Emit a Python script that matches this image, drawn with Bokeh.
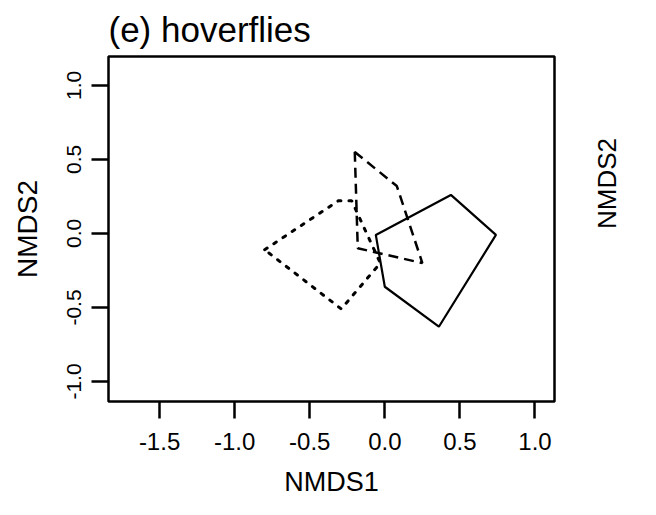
import numpy as np
from bokeh.plotting import figure
from bokeh.models import Range1d, FixedTicker, LinearAxis
from bokeh.embed import file_html
from bokeh.resources import INLINE

# ---- data ----
solid_x = [-0.06, 0.44, 0.74, 0.36, 0.00]
solid_y = [-0.01, 0.26, -0.01, -0.63, -0.36]

dashed_x = [-0.20, 0.08, 0.25, -0.18]
dashed_y = [0.55, 0.32, -0.20, -0.10]

dotted_x = [-0.80, -0.31, -0.22, -0.03, -0.29]
dotted_y = [-0.11, 0.22, 0.22, -0.20, -0.51]

x_ticks = [-1.5, -1.0, -0.5, 0.0, 0.5, 1.0]
y_ticks = [-1.0, -0.5, 0.0, 0.5, 1.0]

FONT = "Liberation Sans"

p = figure(width=640, height=499, output_backend="svg", toolbar_location=None,
           x_range=Range1d(-1.84, 1.13), y_range=Range1d(-1.135, 1.195),
           min_border_left=108, min_border_right=86, min_border_top=55,
           min_border_bottom=98, title="(e) hoverflies")

p.title.text_font = FONT
p.title.text_font_size = "35px"
p.title.text_font_style = "normal"
p.title.text_color = "black"
p.title.offset = 0
p.title.standoff = 15

p.grid.visible = False
p.outline_line_color = "black"
p.outline_line_width = 2.5
p.background_fill_color = "white"
p.border_fill_color = "white"

for ax, ticks in ((p.xaxis[0], x_ticks), (p.yaxis[0], y_ticks)):
    ax.ticker = FixedTicker(ticks=ticks)
    ax.minor_tick_line_color = None
    ax.axis_line_color = None
    ax.major_tick_in = 0
    ax.major_tick_out = 17
    ax.major_tick_line_width = 2.5
    ax.major_tick_line_color = "black"
    ax.major_label_text_font = FONT
    ax.major_label_text_color = "black"
    ax.axis_label_text_font = FONT
    ax.axis_label_text_font_size = "28px"
    ax.axis_label_text_font_style = "normal"
    ax.axis_label_text_color = "black"
    ax.major_label_overrides = {v: f"{v:.1f}" for v in ticks}

p.xaxis[0].major_label_text_font_size = "24px"
p.xaxis[0].major_label_text_line_height = 1.0
p.xaxis[0].major_label_standoff = 14
p.xaxis[0].axis_label = "NMDS1"
p.xaxis[0].axis_label_standoff = 14
p.xaxis[0].axis_label_text_font_size = "27px"
p.xaxis[0].axis_label_text_line_height = 1.0

p.yaxis[0].major_label_text_font_size = "21px"
p.yaxis[0].major_label_standoff = 10
p.yaxis[0].major_label_orientation = "vertical"
p.yaxis[0].axis_label = "NMDS2"
p.yaxis[0].axis_label_standoff = 22

# axis title of the neighbouring panel, visible at the right edge
right_axis = LinearAxis(ticker=FixedTicker(ticks=[]), axis_label="NMDS2",
                        bounds=(-0.75, 0.25),
                        axis_line_color=None, major_tick_line_color=None,
                        minor_tick_line_color=None,
                        major_label_text_font_size="0px",
                        axis_label_standoff=52, axis_label_text_font=FONT,
                        axis_label_text_font_size="26px",
                        axis_label_text_font_style="normal",
                        axis_label_text_color="black")
try:
    right_axis.axis_label_orientation = np.pi / 2
except Exception:
    pass
p.add_layout(right_axis, "right")

p.patch(solid_x, solid_y, fill_color=None, line_color="black", line_width=2.2)
p.patch(dashed_x, dashed_y, fill_color=None, line_color="black", line_width=2.5,
        line_dash="10 6")
p.patch(dotted_x, dotted_y, fill_color=None, line_color="black", line_width=3,
        line_dash="3 8", line_cap="round")

open("out.html", "w").write(file_html(p, INLINE))
